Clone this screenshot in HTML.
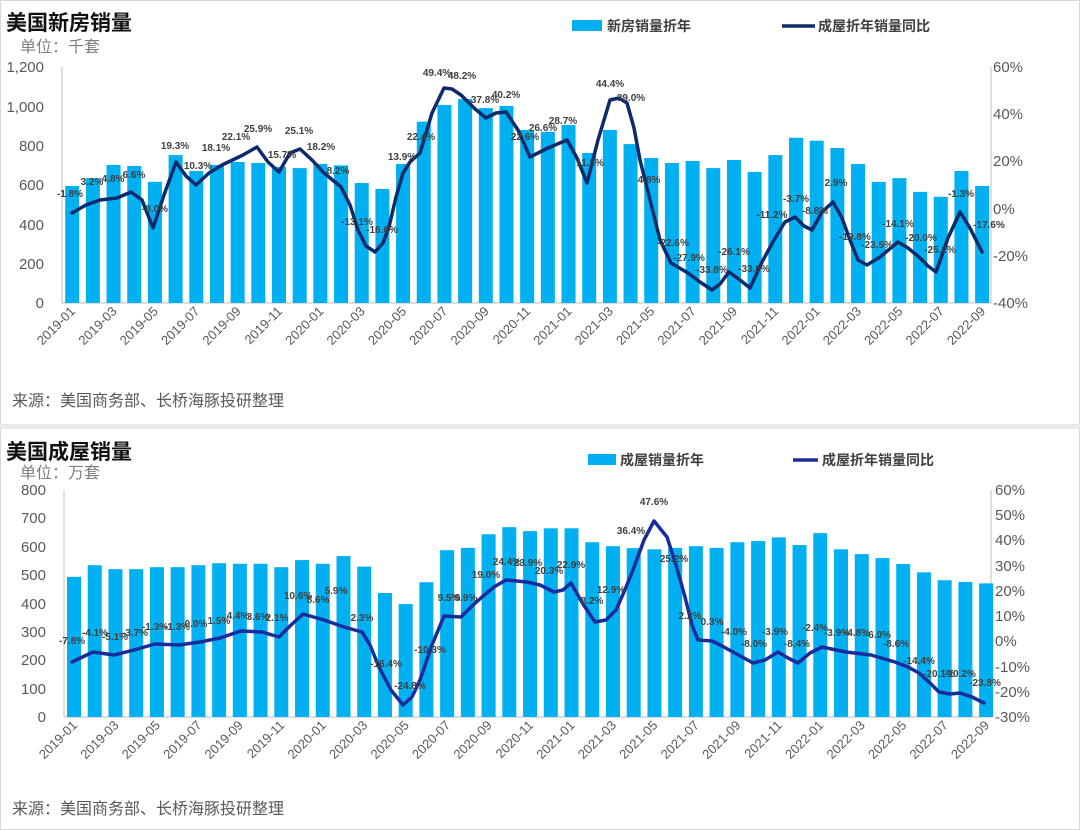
<!DOCTYPE html>
<html><head><meta charset="utf-8"><style>
html,body{margin:0;padding:0;background:#fff;}
svg{display:block;font-family:"Liberation Sans","Noto Sans CJK SC",sans-serif;}
.ax{font-size:15px;fill:#595959;}
.tk{font-size:13px;fill:#595959;}
.dl{font-size:10px;font-weight:bold;fill:#404040;text-anchor:middle;}
.t{font-size:21px;font-weight:bold;fill:#111;}
.u{font-size:16px;fill:#7f7f7f;}
.s{font-size:16px;fill:#595959;}
.lg{font-size:14px;font-weight:bold;fill:#404040;}
</style></head><body>
<svg width="1080" height="830" viewBox="0 0 1080 830" xmlns="http://www.w3.org/2000/svg">
<rect x="0.5" y="0.5" width="1079" height="829" fill="#fff" stroke="#d9d9d9"/>
<rect x="0" y="424" width="1080" height="5" fill="#e8e8e8"/>

<!-- ========== TOP ========== -->
<text class="t" x="6" y="30">美国新房销量</text>
<text class="u" x="20" y="52">单位：千套</text>
<rect x="572" y="20" width="30" height="11" fill="#00B0F0"/>
<text class="lg" x="607" y="31">新房销量折年</text>
<line x1="782" y1="26" x2="815" y2="26" stroke="#0d2a6b" stroke-width="3.5"/>
<text class="lg" x="818" y="31">成屋折年销量同比</text>

<g stroke="#bfbfbf" stroke-width="1">
<line x1="62" y1="67" x2="62" y2="303"/>
<line x1="62" y1="303" x2="991" y2="303"/>
<line x1="991" y1="67" x2="991" y2="303"/>
</g>
<g class="ax" text-anchor="end">
<text x="44" y="72">1,200</text><text x="44" y="112">1,000</text><text x="44" y="151">800</text>
<text x="44" y="190">600</text><text x="44" y="230">400</text><text x="44" y="269">200</text><text x="44" y="308">0</text>
</g>
<g class="ax">
<text x="993" y="72">60%</text><text x="993" y="119">40%</text><text x="993" y="166">20%</text>
<text x="993" y="214">0%</text><text x="993" y="261">-20%</text><text x="993" y="308">-40%</text>
</g>
<g transform="translate(65.2,303) scale(20.68,-0.19667)" fill="#00B0F0">
<rect x="0" width=".677" height="595"/><rect x="1" width=".677" height="635"/><rect x="2" width=".677" height="702"/><rect x="3" width=".677" height="697"/><rect x="4" width=".677" height="616"/><rect x="5" width=".677" height="752"/><rect x="6" width=".677" height="671"/><rect x="7" width=".677" height="702"/><rect x="8" width=".677" height="717"/><rect x="9" width=".677" height="712"/><rect x="10" width=".677" height="692"/><rect x="11" width=".677" height="686"/><rect x="12" width=".677" height="707"/><rect x="13" width=".677" height="700"/><rect x="14" width=".677" height="610"/><rect x="15" width=".677" height="580"/><rect x="16" width=".677" height="707"/><rect x="17" width=".677" height="922"/><rect x="18" width=".677" height="1007"/><rect x="19" width=".677" height="1037"/><rect x="20" width=".677" height="991"/><rect x="21" width=".677" height="1002"/><rect x="22" width=".677" height="880"/><rect x="23" width=".677" height="870"/><rect x="24" width=".677" height="905"/><rect x="25" width=".677" height="763"/><rect x="26" width=".677" height="880"/><rect x="27" width=".677" height="808"/><rect x="28" width=".677" height="737"/><rect x="29" width=".677" height="712"/><rect x="30" width=".677" height="722"/><rect x="31" width=".677" height="686"/><rect x="32" width=".677" height="727"/><rect x="33" width=".677" height="666"/><rect x="34" width=".677" height="752"/><rect x="35" width=".677" height="840"/><rect x="36" width=".677" height="825"/><rect x="37" width=".677" height="788"/><rect x="38" width=".677" height="707"/><rect x="39" width=".677" height="616"/><rect x="40" width=".677" height="635"/><rect x="41" width=".677" height="565"/><rect x="42" width=".677" height="540"/><rect x="43" width=".677" height="671"/><rect x="44" width=".677" height="595"/>
</g>
<polyline fill="none" stroke="#0d2a6b" stroke-width="3.5" stroke-linejoin="round" stroke-linecap="round"
points="72,213 86,205 100,200 117,198 131,192 142,200 153,228 164,195 176,162 186,176 196,185 209,173 222,165 243,155 257,147 268,162 279,172 290,153 300,149 312,160 324,173 341,187 350,205 358,230 366,246 375,252 383,243 389,227 396,197 403,173 410,162 420,153 432,113 444,88 452,89 461,95 474,108 486,118 496,113 506,112 518,130 530,157 548,148 567,140 577,158 587,183 598,140 610,100 619,98 627,103 634,128 640,160 650,200 660,240 671,263 688,273 700,282 712,290 720,284 729,272 740,280 750,288 762,262 774,240 785,222 795,217 804,226 812,230 822,212 833,202 842,218 850,240 858,260 867,265 880,257 898,242 908,248 919,257 928,266 936,272 948,238 960,212 970,228 982,252"/>
<g class="dl">
<text x="70" y="197">-1.8%</text><text x="92" y="185">3.2%</text><text x="113" y="182">4.8%</text><text x="134" y="178">6.6%</text><text x="155" y="212">-8.0%</text><text x="175" y="149">19.3%</text><text x="198" y="169">10.3%</text><text x="216" y="151">18.1%</text><text x="236" y="140">22.1%</text><text x="258" y="132">25.9%</text><text x="282" y="158">15.7%</text><text x="299" y="134">25.1%</text><text x="321" y="150">18.2%</text><text x="338" y="174">8.2%</text><text x="357" y="225">-13.1%</text><text x="382" y="233">-16.6%</text><text x="402" y="160">13.9%</text><text x="421" y="140">22.4%</text><text x="437" y="76">49.4%</text><text x="462" y="79">48.2%</text><text x="485" y="103">37.8%</text><text x="506" y="98">40.2%</text><text x="525" y="140">22.6%</text><text x="543" y="131">26.6%</text><text x="563" y="124">28.7%</text><text x="590" y="166">11.3%</text><text x="610" y="87">44.4%</text><text x="631" y="101">39.0%</text><text x="649" y="183">4.8%</text><text x="673" y="246">-22.6%</text><text x="689" y="261">-27.9%</text><text x="712" y="273">-33.8%</text><text x="734" y="255">-26.1%</text><text x="754" y="272">-33.0%</text><text x="772" y="218">-11.2%</text><text x="796" y="202">-3.7%</text><text x="815" y="214">-8.8%</text><text x="836" y="186">2.9%</text><text x="855" y="240">-19.8%</text><text x="877" y="248">-23.5%</text><text x="898" y="227">-14.1%</text><text x="921" y="241">-20.0%</text><text x="940" y="253">-25.2%</text><text x="961" y="197">-1.3%</text><text x="989" y="228">-17.6%</text>
</g>
<g class="tk" text-anchor="end">
<text transform="translate(76,312) rotate(-45)">2019-01</text><text transform="translate(117.6,312) rotate(-45)">2019-03</text><text transform="translate(158.9,312) rotate(-45)">2019-05</text><text transform="translate(200.3,312) rotate(-45)">2019-07</text><text transform="translate(241.6,312) rotate(-45)">2019-09</text><text transform="translate(283,312) rotate(-45)">2019-11</text><text transform="translate(324.4,312) rotate(-45)">2020-01</text><text transform="translate(365.7,312) rotate(-45)">2020-03</text><text transform="translate(407.1,312) rotate(-45)">2020-05</text><text transform="translate(448.4,312) rotate(-45)">2020-07</text><text transform="translate(489.8,312) rotate(-45)">2020-09</text><text transform="translate(531.2,312) rotate(-45)">2020-11</text><text transform="translate(572.5,312) rotate(-45)">2021-01</text><text transform="translate(613.9,312) rotate(-45)">2021-03</text><text transform="translate(655.2,312) rotate(-45)">2021-05</text><text transform="translate(696.6,312) rotate(-45)">2021-07</text><text transform="translate(738,312) rotate(-45)">2021-09</text><text transform="translate(779.3,312) rotate(-45)">2021-11</text><text transform="translate(820.7,312) rotate(-45)">2022-01</text><text transform="translate(862,312) rotate(-45)">2022-03</text><text transform="translate(903.4,312) rotate(-45)">2022-05</text><text transform="translate(944.8,312) rotate(-45)">2022-07</text><text transform="translate(986.1,312) rotate(-45)">2022-09</text>
</g>
<text class="s" x="12" y="406">来源：美国商务部、长桥海豚投研整理</text>

<!-- ========== BOTTOM ========== -->
<text class="t" x="6" y="459">美国成屋销量</text>
<text class="u" x="20" y="478">单位：万套</text>
<rect x="588" y="454" width="28" height="11" fill="#00B0F0"/>
<text class="lg" x="620" y="465">成屋销量折年</text>
<line x1="793" y1="460" x2="818" y2="460" stroke="#1a2c9c" stroke-width="3.5"/>
<text class="lg" x="822" y="465">成屋折年销量同比</text>

<g stroke="#bfbfbf" stroke-width="1">
<line x1="64" y1="490" x2="64" y2="717"/>
<line x1="64" y1="717" x2="991" y2="717"/>
<line x1="991" y1="490" x2="991" y2="717"/>
</g>
<g class="ax" text-anchor="end">
<text x="46" y="495">800</text><text x="46" y="523">700</text><text x="46" y="552">600</text><text x="46" y="580">500</text><text x="46" y="609">400</text><text x="46" y="637">300</text><text x="46" y="665">200</text><text x="46" y="694">100</text><text x="46" y="722">0</text>
</g>
<g class="ax">
<text x="995" y="495">60%</text><text x="995" y="520">50%</text><text x="995" y="545">40%</text><text x="995" y="571">30%</text><text x="995" y="596">20%</text><text x="995" y="621">10%</text><text x="995" y="646">0%</text><text x="995" y="672">-10%</text><text x="995" y="697">-20%</text><text x="995" y="722">-30%</text>
</g>
<g transform="translate(67,717) scale(20.73,-0.28375)" fill="#00B0F0">
<rect x="0" width=".675" height="494"/><rect x="1" width=".675" height="535"/><rect x="2" width=".675" height="521"/><rect x="3" width=".675" height="521"/><rect x="4" width=".675" height="528"/><rect x="5" width=".675" height="528"/><rect x="6" width=".675" height="535"/><rect x="7" width=".675" height="542"/><rect x="8" width=".675" height="540"/><rect x="9" width=".675" height="540"/><rect x="10" width=".675" height="528"/><rect x="11" width=".675" height="553"/><rect x="12" width=".675" height="540"/><rect x="13" width=".675" height="567"/><rect x="14" width=".675" height="530"/><rect x="15" width=".675" height="437"/><rect x="16" width=".675" height="398"/><rect x="17" width=".675" height="475"/><rect x="18" width=".675" height="588"/><rect x="19" width=".675" height="596"/><rect x="20" width=".675" height="644"/><rect x="21" width=".675" height="669"/><rect x="22" width=".675" height="655"/><rect x="23" width=".675" height="665"/><rect x="24" width=".675" height="665"/><rect x="25" width=".675" height="616"/><rect x="26" width=".675" height="602"/><rect x="27" width=".675" height="595"/><rect x="28" width=".675" height="591"/><rect x="29" width=".675" height="596"/><rect x="30" width=".675" height="602"/><rect x="31" width=".675" height="596"/><rect x="32" width=".675" height="616"/><rect x="33" width=".675" height="620"/><rect x="34" width=".675" height="633"/><rect x="35" width=".675" height="606"/><rect x="36" width=".675" height="648"/><rect x="37" width=".675" height="591"/><rect x="38" width=".675" height="574"/><rect x="39" width=".675" height="560"/><rect x="40" width=".675" height="539"/><rect x="41" width=".675" height="510"/><rect x="42" width=".675" height="482"/><rect x="43" width=".675" height="476"/><rect x="44" width=".675" height="471"/>
</g>
<polyline fill="none" stroke="#1a2c9c" stroke-width="3.5" stroke-linejoin="round" stroke-linecap="round"
points="72,662 93,652 114,655 134,650 155,644 179,645 200,642 220,638 241,631 262,632 279,637 290,626 303,614 324,620 344,627 362,632 370,645 379,667 391,690 403,705 412,697 420,680 432,645 444,616 461,617 472,606 482,597 494,587 506,580 527,582 540,585 554,592 563,590 571,583 583,604 595,622 606,620 616,610 624,592 633,570 644,540 654,521 667,537 676,565 685,597 692,625 698,640 712,641 722,646 733,652 753,663 765,660 778,652 788,658 798,663 810,653 822,647 846,652 871,655 895,662 908,667 919,673 930,683 939,692 950,694 960,693 972,697 984,703"/>
<g class="dl">
<text x="72" y="644">-7.8%</text><text x="95" y="636">-4.1%</text><text x="115" y="640">-5.1%</text><text x="135" y="636">-3.7%</text><text x="155" y="630">-1.3%</text><text x="177" y="630">-1.3%</text><text x="196" y="627">0.0%</text><text x="219" y="624">1.5%</text><text x="238" y="619">4.4%</text><text x="258" y="620">3.6%</text><text x="277" y="621">2.1%</text><text x="298" y="599">10.6%</text><text x="318" y="603">8.6%</text><text x="336" y="594">5.9%</text><text x="362" y="621">2.3%</text><text x="386" y="667">-16.4%</text><text x="410" y="689">-24.8%</text><text x="430" y="653">-10.3%</text><text x="449" y="601">9.5%</text><text x="466" y="601">9.9%</text><text x="486" y="578">19.0%</text><text x="507" y="565">24.4%</text><text x="528" y="566">23.9%</text><text x="549" y="574">20.3%</text><text x="571" y="568">22.9%</text><text x="592" y="604">8.2%</text><text x="611" y="593">12.9%</text><text x="631" y="534">36.4%</text><text x="654" y="505">47.6%</text><text x="674" y="562">25.2%</text><text x="690" y="619">2.2%</text><text x="712" y="625">0.3%</text><text x="734" y="635">-4.0%</text><text x="754" y="647">-8.0%</text><text x="775" y="635">-3.9%</text><text x="797" y="647">-8.4%</text><text x="815" y="631">-2.4%</text><text x="837" y="636">-3.9%</text><text x="857" y="636">-4.8%</text><text x="878" y="638">-6.0%</text><text x="896" y="647">-8.6%</text><text x="919" y="664">-14.4%</text><text x="939" y="677">-20.1%</text><text x="960" y="677">-20.2%</text><text x="985" y="686">-23.8%</text>
</g>
<g class="tk" text-anchor="end">
<text transform="translate(78,726) rotate(-45)">2019-01</text><text transform="translate(119.5,726) rotate(-45)">2019-03</text><text transform="translate(160.9,726) rotate(-45)">2019-05</text><text transform="translate(202.4,726) rotate(-45)">2019-07</text><text transform="translate(243.8,726) rotate(-45)">2019-09</text><text transform="translate(285.3,726) rotate(-45)">2019-11</text><text transform="translate(326.8,726) rotate(-45)">2020-01</text><text transform="translate(368.2,726) rotate(-45)">2020-03</text><text transform="translate(409.7,726) rotate(-45)">2020-05</text><text transform="translate(451.1,726) rotate(-45)">2020-07</text><text transform="translate(492.6,726) rotate(-45)">2020-09</text><text transform="translate(534.1,726) rotate(-45)">2020-11</text><text transform="translate(575.5,726) rotate(-45)">2021-01</text><text transform="translate(617,726) rotate(-45)">2021-03</text><text transform="translate(658.4,726) rotate(-45)">2021-05</text><text transform="translate(699.9,726) rotate(-45)">2021-07</text><text transform="translate(741.4,726) rotate(-45)">2021-09</text><text transform="translate(782.8,726) rotate(-45)">2021-11</text><text transform="translate(824.3,726) rotate(-45)">2022-01</text><text transform="translate(865.7,726) rotate(-45)">2022-03</text><text transform="translate(907.2,726) rotate(-45)">2022-05</text><text transform="translate(948.7,726) rotate(-45)">2022-07</text><text transform="translate(990.1,726) rotate(-45)">2022-09</text>
</g>
<text class="s" x="12" y="814">来源：美国商务部、长桥海豚投研整理</text>
</svg>
</body></html>
